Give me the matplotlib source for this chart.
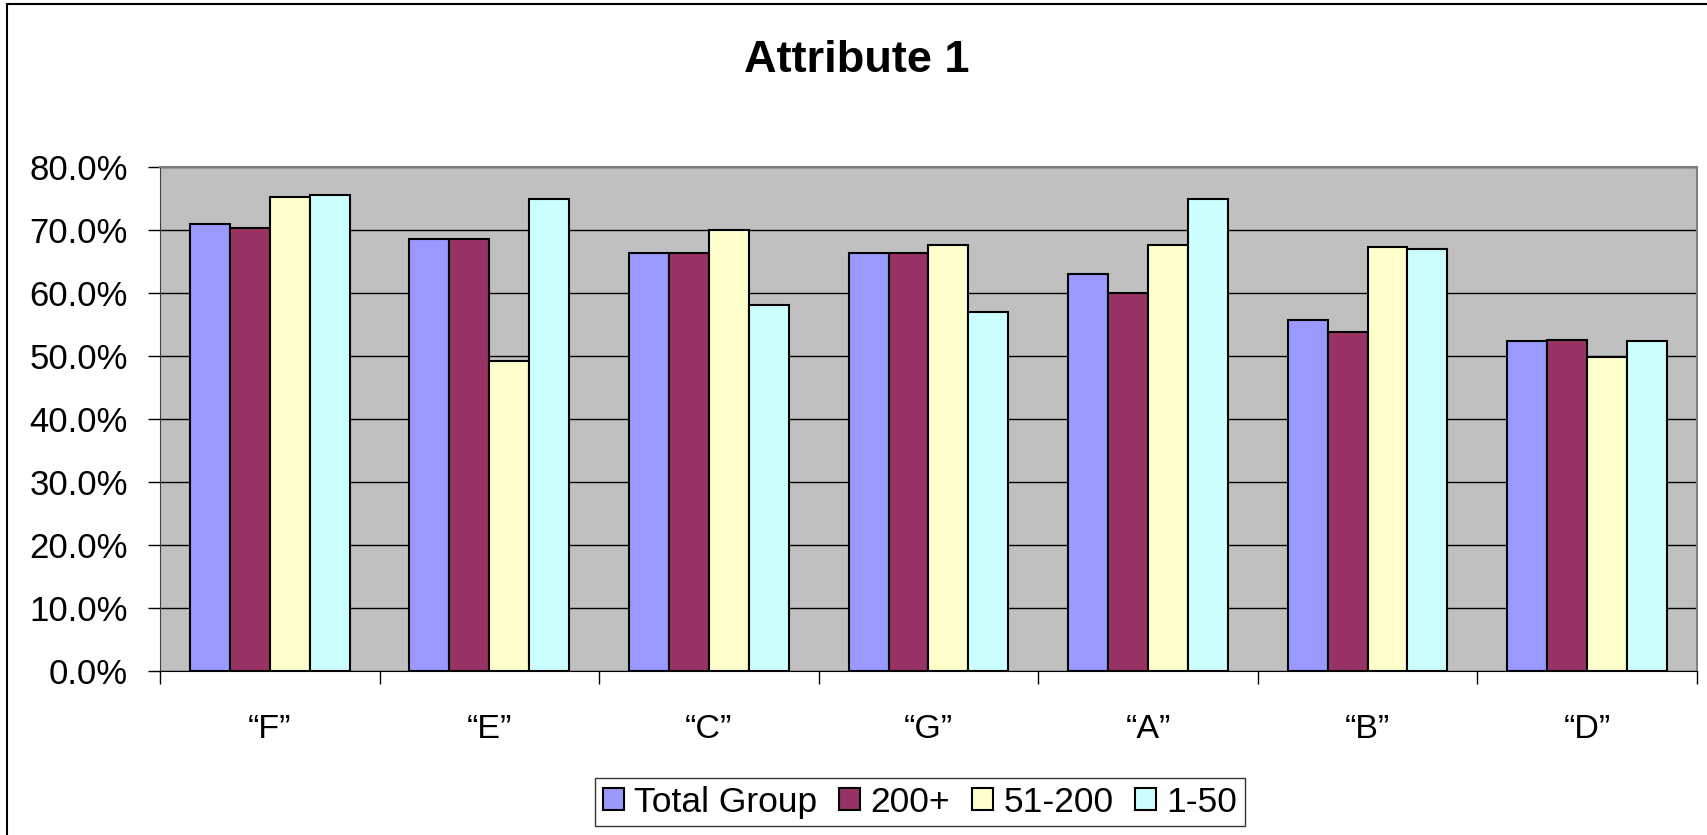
import matplotlib
matplotlib.use("Agg")
import matplotlib.pyplot as plt
import matplotlib.patches as patches
from matplotlib.ticker import FuncFormatter
import numpy as np

plt.rcParams['font.family'] = ['Liberation Sans', 'DejaVu Sans']

# data
categories = ['\u201cF\u201d', '\u201cE\u201d', '\u201cC\u201d', '\u201cG\u201d',
              '\u201cA\u201d', '\u201cB\u201d', '\u201cD\u201d']
series_names = ['Total Group', '200+', '51-200', '1-50']
total_group = [0.710, 0.686, 0.664, 0.664, 0.631, 0.557, 0.524]
group_200 = [0.704, 0.686, 0.664, 0.664, 0.600, 0.539, 0.526]
group_51_200 = [0.753, 0.493, 0.701, 0.677, 0.677, 0.673, 0.499]
group_1_50 = [0.756, 0.750, 0.582, 0.570, 0.750, 0.670, 0.524]
colors = ['#9999FF', '#993366', '#FFFFCC', '#CCFFFF']

series = [total_group, group_200, group_51_200, group_1_50]

fig = plt.figure(figsize=(17.07, 8.35), dpi=100)
ax = fig.add_axes([0.0937, 0.1964, 0.9004, 0.6032])
ax.set_facecolor('#C0C0C0')

x = np.arange(len(categories))
w = 1 / 5.5
for i, vals in enumerate(series):
    ax.bar(x + (i - 1.5) * w, vals, w, color=colors[i], edgecolor='black',
           linewidth=1.5, label=series_names[i], zorder=3)

ax.set_xlim(-0.5, len(categories) - 0.5)
ax.set_ylim(0, 0.8)
ax.set_yticks(np.arange(0, 0.81, 0.1))
ax.yaxis.set_major_formatter(FuncFormatter(lambda v, p: '{:.1f}%'.format(v * 100)))
ax.yaxis.grid(True, color='black', linewidth=1.0, zorder=1)
ax.set_axisbelow(True)

# ticks between the categories, labels in the middle
ax.set_xticks(np.arange(-0.5, len(categories), 1.0))
ax.set_xticklabels([])
ax.set_xticks(x, minor=True)
ax.set_xticklabels(categories, minor=True)
ax.tick_params(axis='x', which='major', length=9, width=1, color='black', direction='out')
ax.tick_params(axis='x', which='minor', length=0, pad=31, labelsize=24.5)
ax.tick_params(axis='y', length=9, width=1, direction='out', pad=14, labelsize=25)

for s in ['top', 'right']:
    ax.spines[s].set_color('#808080')
    ax.spines[s].set_linewidth(1.5)
ax.spines['left'].set_color('#404040')
ax.spines['bottom'].set_color('black')

fig.text(0.502, 0.927, 'Attribute 1', ha='center', va='center',
         fontsize=32.5, fontweight='bold')

leg = fig.legend(loc='center', bbox_to_anchor=(0.539, 0.0395), ncol=4,
                 fontsize=25.5, frameon=True, fancybox=False, handlelength=0.6,
                 handleheight=0.6, handletextpad=0.3, columnspacing=0.6,
                 borderpad=0.2, borderaxespad=0)
leg.get_frame().set_edgecolor('black')
leg.get_frame().set_linewidth(1.0)

# outer chart border (left and top visible)
fig.patches.append(patches.Rectangle((7 / 1707, -0.05), 1.2, 1 - 4 / 835 + 0.05,
                                     transform=fig.transFigure, fill=False,
                                     edgecolor='black', linewidth=1.5))

fig.savefig('out.png', dpi=100, facecolor='white')
